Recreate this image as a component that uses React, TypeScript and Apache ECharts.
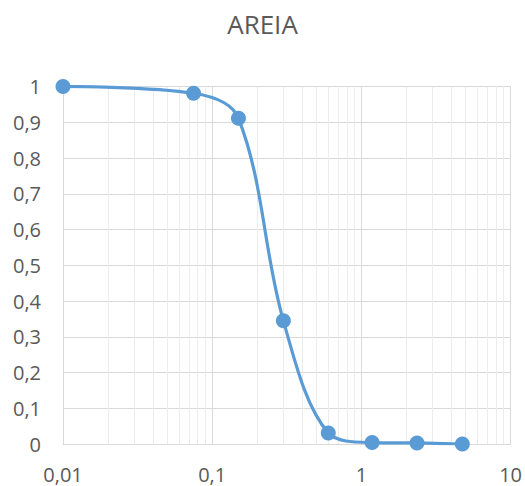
import React, { useEffect, useRef } from "react";
import * as echarts from "echarts";

const TITLE = "AREIA";
const sieveSizes = [0.01, 0.075, 0.15, 0.3, 0.6, 1.18, 2.36, 4.75];
const passing = [1, 0.981, 0.911, 0.345, 0.031, 0.004, 0.003, 0.0];
const xMin = 0.01;
const xMax = 10;
const yMin = 0;
const yMax = 1;
const yInterval = 0.1;

const fmt = (v: number) => String(Number(v.toPrecision(6))).replace(".", ",");

function minorGridValues(): number[] {
  const out: number[] = [];
  for (let d = xMin; d < xMax * 0.999; d *= 10) {
    for (let k = 2; k <= 9; k++) out.push(Number((d * k).toPrecision(6)));
  }
  return out;
}

export default function App() {
  const ref = useRef<HTMLDivElement>(null);
  useEffect(() => {
    if (!ref.current) return;
    const chart = echarts.init(ref.current, undefined, { renderer: "svg" });
    const textColor = "#595959";
    const font = "'Open Sans', 'Noto Sans', sans-serif";
    chart.setOption({
      animation: false,
      backgroundColor: "#ffffff",
      title: {
        text: TITLE,
        left: "center",
        top: 6,
        textStyle: { color: textColor, fontSize: 26, fontWeight: "normal", fontFamily: font },
      },
      grid: { left: 63, right: 14, top: 86.5, bottom: 42, containLabel: false },
      xAxis: {
        type: "log",
        logBase: 10,
        min: xMin,
        max: xMax,
        axisLine: { show: true, lineStyle: { color: "#d9d9d9", width: 1 } },
        axisTick: { show: false },
        axisLabel: { color: textColor, fontSize: 20, lineHeight: 20, fontFamily: font, margin: 20, formatter: (v: number) => fmt(v) },
        splitLine: { show: true, lineStyle: { color: "#d9d9d9", width: 1 } },
      },
      yAxis: {
        type: "value",
        min: yMin,
        max: yMax,
        interval: yInterval,
        axisLine: { show: true, lineStyle: { color: "#d9d9d9", width: 1 } },
        axisTick: { show: false },
        axisLabel: { color: textColor, fontSize: 20, fontFamily: font, margin: 22, formatter: (v: number) => fmt(v) },
        splitLine: { show: true, lineStyle: { color: "#d9d9d9", width: 1 } },
      },
      series: [
        {
          type: "line",
          data: [],
          z: 1,
          silent: true,
          markLine: {
            silent: true,
            symbol: "none",
            label: { show: false },
            lineStyle: { color: "#ececec", width: 1, type: "solid" },
            emphasis: { disabled: true },
            data: minorGridValues().map((v) => ({ xAxis: v })),
          },
        },
        {
          type: "line",
          z: 5,
          data: sieveSizes.map((s, i) => [s, passing[i]]),
          smooth: 0.35,
          symbol: "circle",
          symbolSize: 15,
          lineStyle: { color: "#5b9bd5", width: 3.2 },
          itemStyle: { color: "#5b9bd5" },
        },
      ],
    });
    return () => chart.dispose();
  }, []);
  return (
    <div
      ref={ref}
      style={{ position: "absolute", left: 0, top: 0, width: 525, height: 486 }}
    />
  );
}
